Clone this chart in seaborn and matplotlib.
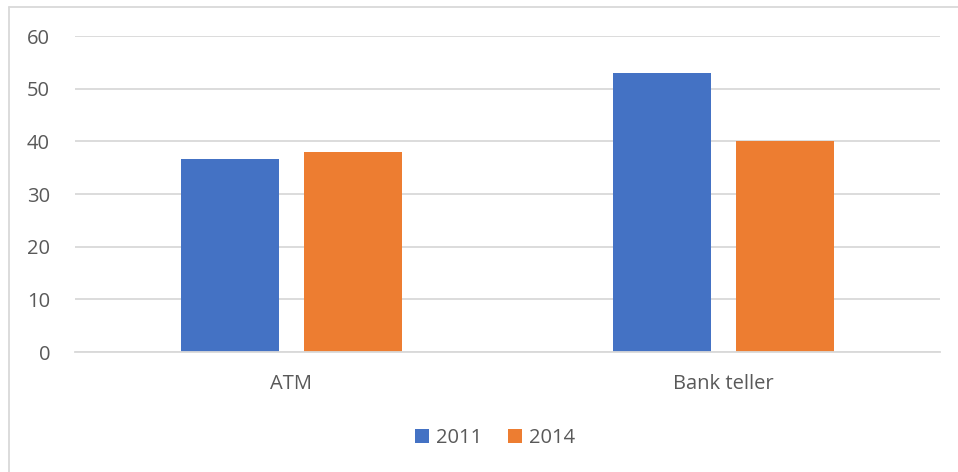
import matplotlib
matplotlib.use("Agg")
import matplotlib.pyplot as plt
from matplotlib.lines import Line2D
import seaborn as sns
import pandas as pd

categories = ["ATM", "Bank teller"]
years = ["2011", "2014"]
values_2011 = [36.6, 53.0]
values_2014 = [38.0, 40.0]
y_ticks = [0, 10, 20, 30, 40, 50, 60]
colors = ["#4472C4", "#ED7D31"]

rows = []
for c, v in zip(categories, values_2011):
    rows.append({"cat": c, "year": years[0], "val": v})
for c, v in zip(categories, values_2014):
    rows.append({"cat": c, "year": years[1], "val": v})
df = pd.DataFrame(rows)

sns.set_theme(style="white")
plt.rcParams["font.family"] = ["Open Sans", "DejaVu Sans"]

FS = 14.5
W, H = 958, 472
fig = plt.figure(figsize=(W / 100, H / 100), dpi=100)
ax = fig.add_axes([75 / W, 1 - 352 / H, (940 - 75) / W, (352 - 36) / H])

sns.barplot(data=df, x="cat", y="val", hue="year", palette=colors,
            width=0.57, gap=0.205, ax=ax, saturation=1, legend=True,
            edgecolor="none", linewidth=0)

ax.set_xlim(-0.5, 1.5)
ax.set_ylim(0, 60)
ax.set_yticks(y_ticks)
ax.set_yticklabels([str(t) for t in y_ticks])
ax.yaxis.grid(True, color="#D9D9D9", linewidth=1.3)
ax.set_axisbelow(True)
for s in ["top", "right", "left"]:
    ax.spines[s].set_visible(False)
ax.spines["bottom"].set_color("#D9D9D9")
ax.spines["bottom"].set_linewidth(1.3)
ax.tick_params(axis="y", length=0, pad=18, labelsize=FS, labelcolor="#595959")
ax.tick_params(axis="x", length=0, pad=16, labelsize=FS, labelcolor="#595959")
ax.set_xlabel("")
ax.set_ylabel("")

handles, labels = ax.get_legend_handles_labels()
ax.legend_.remove()
fig.legend(handles, labels, loc="center", bbox_to_anchor=(495 / W, 1 - 438 / H),
           ncol=2, frameon=False, fontsize=FS, labelcolor="#595959",
           handlelength=0.7, handleheight=0.7, handletextpad=0.35,
           columnspacing=1.3, borderpad=0, borderaxespad=0)

# chart-area border (extends beyond the image on right and bottom)
fig.add_artist(Line2D([9 / W, 1.0], [1 - 7 / H, 1 - 7 / H], transform=fig.transFigure,
                      color="#D9D9D9", linewidth=1.3))
fig.add_artist(Line2D([9 / W, 9 / W], [0.0, 1 - 7 / H], transform=fig.transFigure,
                      color="#D9D9D9", linewidth=1.3))

fig.savefig("out.png", dpi=100)
